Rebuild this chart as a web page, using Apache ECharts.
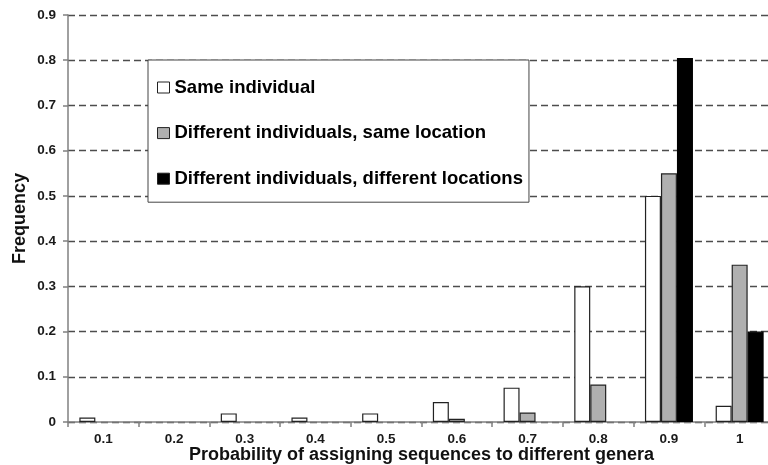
<!DOCTYPE html>
<html>
<head>
<meta charset="utf-8">
<script src="https://cdn.jsdelivr.net/npm/echarts@6/dist/echarts.min.js"></script>
<style>
  html, body { margin: 0; padding: 0; background: #fff; }
  #chart { width: 768px; height: 465px; }
</style>
</head>
<body>
<div id="chart"></div>
<script>
const categories = ['0.1', '0.2', '0.3', '0.4', '0.5', '0.6', '0.7', '0.8', '0.9', '1'];
const seriesNames = ['Same individual', 'Different individuals, same location', 'Different individuals, different locations'];
const sameIndividual = [0.010, 0, 0.019, 0.010, 0.019, 0.044, 0.076, 0.300, 0.500, 0.036];
const sameLocation   = [0, 0, 0, 0, 0, 0.007, 0.021, 0.083, 0.550, 0.348];
const diffLocation   = [0, 0, 0, 0, 0, 0, 0, 0, 0.805, 0.200];
const yTicks = { min: 0, max: 0.9, interval: 0.1 };
const xTitle = 'Probability of assigning sequences to different genera';
const yTitle = 'Frequency';

const FONT = "'Liberation Sans', Arial, sans-serif";
const toBars = arr => arr.map(v => (v === 0 ? '-' : v));

const chart = echarts.init(document.getElementById('chart'), null, { renderer: 'canvas' });

function barSeries(name, data, fill, border) {
  return {
    name: name,
    type: 'bar',
    data: toBars(data),
    barWidth: 16,
    barGap: '0%',
    itemStyle: { color: fill, borderColor: border, borderWidth: 1.2 },
    emphasis: { disabled: true },
    animation: false
  };
}

chart.setOption({
  animation: false,
  grid: { left: 68, width: 707, top: 15, bottom: 43, containLabel: false, outerBoundsMode: 'none' },
  legend: {
    orient: 'vertical',
    left: 148,
    top: 60,
    padding: [18, 6, 14, 9],
    itemGap: 26.6,
    itemWidth: 12,
    itemHeight: 11,
    itemTextGap: 6,
    icon: 'rect',
    backgroundColor: '#ffffff',
    borderColor: '#444444',
    borderWidth: 1,
    itemStyle: { borderWidth: 1, borderColor: '#222' },
    textStyle: { fontFamily: FONT, fontWeight: 'bold', fontSize: 18.5, color: '#000' },
    data: seriesNames
  },
  xAxis: {
    type: 'category',
    data: categories,
    boundaryGap: true,
    name: xTitle,
    nameLocation: 'middle',
    nameGap: 24,
    nameMoveOverlap: false,
    nameTextStyle: { fontFamily: FONT, fontWeight: 'bold', fontSize: 18, color: '#111' },
    axisLine: { lineStyle: { color: '#808080', width: 1.5 } },
    axisTick: { show: true, alignWithLabel: false, length: 5, lineStyle: { color: '#808080', width: 1.5 } },
    axisLabel: { fontFamily: FONT, fontWeight: 'bold', fontSize: 13.5, color: '#1a1a1a', margin: 10 },
    splitLine: { show: false }
  },
  yAxis: {
    type: 'value',
    min: yTicks.min,
    max: yTicks.max,
    interval: yTicks.interval,
    name: yTitle,
    nameLocation: 'middle',
    nameGap: 39,
    nameMoveOverlap: false,
    nameRotate: 90,
    nameTextStyle: { fontFamily: FONT, fontWeight: 'bold', fontSize: 18, color: '#111' },
    axisLine: { show: true, lineStyle: { color: '#808080', width: 1.5 } },
    axisTick: { show: true, length: 5, lineStyle: { color: '#808080', width: 1.5 } },
    axisLabel: { fontFamily: FONT, fontWeight: 'bold', fontSize: 13.5, color: '#1a1a1a', margin: 12 },
    splitLine: { show: true, lineStyle: { color: '#4d4d4d', width: 1.3, type: [7, 4] } }
  },
  series: [
    barSeries(seriesNames[0], sameIndividual, '#ffffff', '#222222'),
    barSeries(seriesNames[1], sameLocation, '#b0b0b0', '#222222'),
    barSeries(seriesNames[2], diffLocation, '#000000', '#000000')
  ]
});
</script>
</body>
</html>
